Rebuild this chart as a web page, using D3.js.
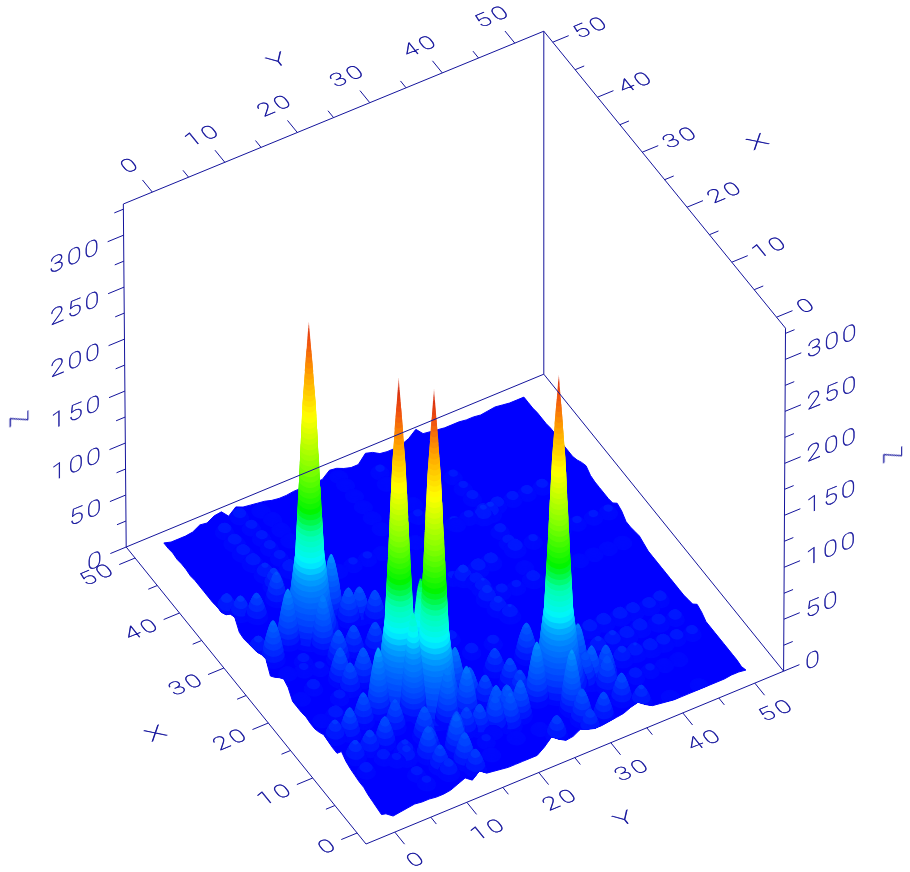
<!DOCTYPE html>
<html>
<head>
<meta charset="utf-8">
<script src="https://cdn.jsdelivr.net/npm/d3@7"></script>
<style>
  html, body { margin: 0; padding: 0; background: #fff; }
  text { font-family: Roboto, "Liberation Sans", sans-serif; font-weight: 100; fill: #14149c; stroke: #14149c; stroke-width: 0.45; text-rendering: geometricPrecision; }
</style>
</head>
<body>
<div id="chart"></div>
<script>
const width = 910;
const height = 872;

// axis ticks
const xTicks = [0, 10, 20, 30, 40, 50];
const yTicks = [0, 10, 20, 30, 40, 50];
const zTicks = [0, 50, 100, 150, 200, 250, 300];
const xMinor = [5, 15, 25, 35, 45];
const yMinor = [5, 15, 25, 35, 45];
const zMinor = [25, 75, 125, 175, 225, 275, 325];

// the four main peaks
const peakX = [30.2, 15.6, 12.4, 8.8];
const peakY = [8.1, 11.5, 14.4, 29.4];
const peakZ = [297, 310, 308, 298];

// peak radius against height
const profileZ = [0, 12, 30, 75, 125, 220, 285, 300];
const profileR = [3.6, 3.0, 2.45, 1.72, 1.38, 0.8, 0.17, 0.03];

// smaller spots, grouped roughly by area
const bumpX = [31.4, 29.8, 27.3, 28.3, 37.8, 36.3, 35.1, 36.3, 30.5, 29.5, 29.3, 28.4, 24.6, 25.1, 24.3, 21.8, 19.9, 20.5, 15.3, 13.3, 14.5, 14.8, 12.2, 13.8, 14.2, 10.6, 10.6, 9.3, 7.2, 7.2, 10.3, 4.2,
  13.3, 10.3, 11.8, 10.9, 14.4, 11.8, 9.9, 8, 14.4, 9.3, 4.7, 7.2, 7.2, 3.2, 1.7, 2.7, 6.9, 6.4, 5.7, 3.5, 10.2, 7.6, 5.9, 1.9, 1.9,
  48.3, 46.2, 44.3, 42.4, 40.2, 38.2, 49.5, 47.3, 45.3, 43.5, 41.6, 39.5, 49.2, 47.4, 45.5, 43.5,
  36.6, 36.6, 36.6, 36.6, 36.5, 36.5, 36.5, 36.5, 36.5, 36.5, 36.5,
  42.9, 40.8, 38.9, 35.8, 32.8, 30.8, 29.6, 29.5, 29.4, 29.6,
  24.5, 24.5, 24.5, 24.5, 24.5,
  14.5, 14.2, 14.4, 14.4, 14.5, 14.4, 14.4, 11.4, 11.1, 11.7, 11.4, 11.4, 11.4, 8.1, 8.3, 8.4, 8.4, 8.6, 8.6, 5.4, 5.4, 5.4, 5.4,
  7.7, 8.5, 4.4, 2.7, 21.3, 25.5, 26.2, 24.3, 17.2, 19.2, 28.5, 35.8, 21, 21, 21, 18, 18, 18, 25, 28,
  47.7, 45.8, 49.5, 48, 46, 44, 42, 40, 39.5, 41.5, 36.3,
  29.6, 29.6, 29, 29.2, 26.6, 24.4, 27.3, 26, 24.3, 24.5, 24.4, 22.4, 20.9, 36.2, 29.1,
  7.5, 6.7, 7.1, 7.8, 0.9, 7.1, 1.9, 2.9, 8.2, 7.5, 6.7, 7.5, 5.8, 5.9, 3.9, 3.7, 3,
  19, 19, 17, 17, 22, 22, 25, 5, 3, 0.8, 0.8];
const bumpY = [11.8, 4.8, 8.1, 1.8, 1.2, 2.2, 3.7, 7.2, 1.1, 13, 14.4, 16, 8.6, 11, 13.5, 7.1, 7.3, 9.5, 8.4, 12, 13.8, 6, 8.8, 3.5, 1.7, 6.4, 4.3, 11.1, 10.6, 7.3, 2.1, 10.1,
  17.8, 14.9, 18.9, 20.5, 24, 24.5, 24.7, 25.9, 28.4, 32.4, 28.7, 33, 35, 34.7, 36.5, 28.9, 21.2, 9.8, 13.3, 13.1, 17.5, 20, 20.9, 24.9, 31.4,
  7.4, 7.5, 7.5, 7.7, 8, 8, 10.2, 10.5, 10.7, 10.7, 10.9, 11, 13, 13.5, 13.5, 13.5,
  16, 18, 20, 22, 32, 34, 36, 38, 40.1, 42.1, 44.2,
  35.8, 35.9, 36, 36.6, 36.1, 36, 44.8, 47, 49, 42.7,
  40, 42, 44, 46, 48,
  47, 45.3, 43.2, 41.4, 39.2, 37.2, 35.2, 44.9, 47, 42.5, 40.5, 38.5, 36.5, 47.5, 45.5, 43.7, 41.9, 39.9, 38.1, 44, 42, 40, 38,
  2, 4.9, 7, 7.3, 1.4, 2.1, 4.7, 5.8, 1.7, 5.4, 28.3, 35.6, 18, 20, 22, 20, 23, 26, 18, 22,
  28.6, 28.3, 24, 24, 24, 24, 24, 24, 28.8, 29.4, 32.2,
  36.2, 38.7, 30.7, 32.6, 35.7, 35.5, 29.4, 29.5, 33.1, 31.2, 29.1, 29.4, 30.1, 26.4, 27.2,
  21.4, 19.3, 17.4, 16, 28.9, 14.2, 13.6, 10.5, 7.7, 6.1, 22.8, 32.3, 34.3, 18.6, 20.5, 23.7, 25.6,
  14, 16.5, 12, 3.5, 14, 3.5, 4, 17, 16.5, 40, 44];
const bumpZ = [57, 52, 50, 38, 15, 18, 23, 27, 13, 31, 29, 26, 29, 24, 24, 31, 26, 31, 62, 96, 118, 28, 27, 26, 17, 26, 19, 29, 22, 13, 17, 22,
  46, 51, 31, 24, 21, 24, 22, 56, 33, 48, 58, 36, 31, 26, 17, 30, 33, 29, 35, 29, 45, 33, 32, 20, 24,
  8, 9, 9, 10, 12, 18, 8, 7, 7, 7, 7, 10, 5, 5, 5, 5,
  5, 6, 6, 5, 6, 6, 7, 8, 7, 7, 7,
  6, 6, 7, 12, 7, 7, 6, 6, 6, 6,
  4, 4, 4, 4, 4,
  8, 9, 9, 10, 10, 10, 9, 9, 8, 10, 10, 12, 12, 7, 8, 9, 10, 11, 13, 5, 5, 6, 8,
  8, 8, 7, 6, 4, 5, 7, 6, 4, 7, 14, 12, 7, 7, 7, 8, 8, 7, 5, 5,
  6, 5, 3, 3, 3, 3, 3, 3, 6, 5, 4,
  10, 6, 10, 9, 5, 9, 9, 11, 6, 7, 14, 13, 11, 5, 6,
  30, 30, 25, 22, 20, 27, 20, 14, 12, 6, 35, 30, 30, 5, 5, 5, 5,
  14, 12, 10, 10, 16, 8, 6, 6, 5, 4, 3];

// height of the surface edge, one value per grid unit
const edgeY0 = [7, 1, 2, 3, 4, 6, 6, 7, 8, 10, 14, 7, 7, 8, 9, 6, 4, 4, 5, 4, 4, 4, 12, 15, 11, 6, 2, 13, 12, 9, 8, 7, 6, 7, 16, 14, 8, 5, 5, 4, 4, 4, 4, 4, 3, 4, 4, 3, 4, 3, 3];
const edgeX50 = [3, 1, 1, 1, 2, 6, 5, 9, 10, 3, 9, 6, 5, 4, 3, 1, 0, 0, 1, 1, 1, 1, 1, 7, 6, 3, 1, 1, 9, 7, 3, 2, 2, 3, 6, 12, 5, 4, 3, 2, 2, 2, 1, 1, 0, 1, 2, 1, 0, 0, 0];
const edgeY50 = [2, 0, 1, 1, 1, 1, 1, 1, 1, 1, 5, 7, 2, 1, 0, 0, 0, 0, 0, 0, 0, 0, 0, 2, 4, 3, 2, 2, 7, 9, 4, 3, 3, 3, 3, 4, 8, 6, 3, 1, 1, 1, 1, 2, 2, 1, 1, 1, 0, 0, 0];
const edgeX0 = [7, 2, 3, 4, 5, 4, 4, 3, 3, 4, 7, 10, 5, 11, 6, 5, 4, 3, 3, 3, 3, 3, 8, 15, 10, 6, 7, 11, 8, 6, 6, 7, 8, 9, 12, 14, 9, 5, 4, 3, 2, 2, 2, 2, 2, 2, 2, 2, 3, 3, 2];

// height colours
const colorZ = [0, 20, 50, 62, 75, 100, 122, 160, 210, 250, 280, 300];
const colorV = ['#0000ff', '#0040ff', '#0080ff', '#00a8ff', '#00f5ff', '#00ffb0', '#00f500', '#80ff00', '#ffff00', '#ffa000', '#f05010', '#d83010'];

const zColor = d3.scaleLinear().domain(colorZ).range(colorV).interpolate(d3.interpolateRgb).clamp(true);

// oblique projection of the box
const xPx = d3.scaleLinear([-2, 52], [0, -239.8]);
const xPy = d3.scaleLinear([-2, 52], [0, -297]);
const yPx = d3.scaleLinear([-4, 54], [0, 417.6]);
const yPy = d3.scaleLinear([-4, 54], [0, -172.8]);
const zPy = d3.scaleLinear([0, 330], [0, -343]);

const project = (x, y, z) => {
  const tilt = z * (0.00015 * (y - 54) + 0.000107 * (52 - x));
  return [366 + xPx(x) + yPx(y) + tilt, 844 + xPy(x) + yPy(y) + zPy(z)];
};

const svg = d3.select('#chart')
  .append('svg')
  .attr('width', width)
  .attr('height', height)
  .style('display', 'block');

// one unit along x and y on screen
const ex = [xPx(1) - xPx(0), xPy(1) - xPy(0)];
const ey = [yPx(1) - yPx(0), yPy(1) - yPy(0)];

const ringLayer = svg.append('g');

// the floor outline
const frontLeft = edgeY0.map((z, i) => project(i, 0, z));
const frontRight = edgeX0.map((z, i) => project(0, i, z));
const outline = [];
frontLeft.forEach((p) => outline.push(p));
edgeX50.forEach((z, i) => outline.push(project(50, i, z)));
edgeY50.slice().reverse().forEach((z, i) => outline.push(project(50 - i, 50, z)));
frontRight.slice().reverse().forEach((p) => outline.push(p));

ringLayer.append('path')
  .attr('d', d3.line()(outline) + 'Z')
  .attr('fill', '#0000ff')
  .attr('stroke', '#0000ff')
  .attr('stroke-width', 1);

// spots near the front must not hang over the surface edge
const clipPts = frontLeft.slice();
clipPts.push([frontLeft[frontLeft.length - 1][0], 0]);
clipPts.push([frontRight[frontRight.length - 1][0], 0]);
frontRight.slice().reverse().forEach((p) => clipPts.push(p));

svg.append('clipPath')
  .attr('id', 'front-clip')
  .append('path')
  .attr('d', d3.line()(clipPts) + 'Z');

// collect all spots and peaks, far ones first
const spots = [];
bumpX.forEach((x, i) => spots.push({ x: x, y: bumpY[i], z: bumpZ[i], peak: false }));
peakX.forEach((x, i) => spots.push({ x: x, y: peakY[i], z: peakZ[i], peak: true }));
spots.sort((a, b) => project(a.x, a.y, 0)[1] - project(b.x, b.y, 0)[1]);

const peakRadius = d3.scaleLinear().domain(profileZ).range(profileR).clamp(true);

const rings = [];
spots.forEach((s) => {
  if (s.peak) {
    // rescale so every peak narrows to a point at its own top
    for (let z = 1; z <= s.z; z += 1) {
      rings.push({ x: s.x, y: s.y, z: z, r: peakRadius(z * 300 / s.z) });
    }
  } else {
    const big = s.z > 70 ? 1.6 : (s.z > 28 ? 1.45 : (s.z > 8 ? 1.35 : 1.15));
    const power = s.z > 8 ? 0.62 : 0.4;
    const step = Math.max(0.6, s.z / 60);
    for (let z = 0.3; z <= s.z; z += step) {
      rings.push({ x: s.x, y: s.y, z: z, r: big * Math.pow(1 - z / s.z, power) + 0.02 });
    }
  }
});

// banded colour, the picture steps through a short palette
const band = (z) => Math.floor(z / 5) * 5;

ringLayer.append('g')
  .attr('clip-path', 'url(#front-clip)')
  .selectAll('circle')
  .data(rings)
  .enter()
  .append('circle')
  .attr('r', 1)
  .attr('transform', (d) => {
    const p = project(d.x, d.y, d.z);
    return 'matrix(' + (ex[0] * d.r) + ',' + (ex[1] * d.r) + ',' + (ey[0] * d.r) + ',' + (ey[1] * d.r) + ',' + p[0] + ',' + p[1] + ')';
  })
  .attr('fill', (d) => zColor(band(d.z) + 2.5));

// box and axes
const axisColor = '#14149c';
const axes = svg.append('g').attr('stroke', axisColor).attr('fill', 'none');

const seg = (a, b, w) => {
  axes.append('line')
    .attr('x1', a[0]).attr('y1', a[1])
    .attr('x2', b[0]).attr('y2', b[1])
    .attr('stroke-width', w);
};

seg(project(52, -4, 0), project(-2, -4, 0), 1);
seg(project(-2, -4, 0), project(-2, 54, 0), 1);
seg(project(52, -4, 0), project(52, 54, 0), 1);
seg(project(52, 54, 0), project(-2, 54, 0), 1);
seg(project(52, -4, 0), project(52, -4, 330), 1);
seg(project(52, 54, 0), project(52, 54, 330), 1);
seg(project(-2, 54, 0), project(-2, 54, 330), 1);
seg(project(52, -4, 330), project(52, 54, 330), 1);
seg(project(52, 54, 330), project(-2, 54, 330), 1);

const majorLen = 2.2;
const minorLen = 1.25;

xTicks.forEach((t) => {
  seg(project(t, -4, 0), project(t, -4 - majorLen, 0), 1);
  seg(project(t, 54, 330), project(t, 54 + majorLen, 330), 1);
});
xMinor.forEach((t) => {
  seg(project(t, -4, 0), project(t, -4 - minorLen, 0), 1);
  seg(project(t, 54, 330), project(t, 54 + minorLen, 330), 1);
});
yTicks.forEach((t) => {
  seg(project(-2, t, 0), project(-2 - majorLen, t, 0), 1);
  seg(project(52, t, 330), project(52 + majorLen, t, 330), 1);
});
yMinor.forEach((t) => {
  seg(project(-2, t, 0), project(-2 - minorLen, t, 0), 1);
  seg(project(52, t, 330), project(52 + minorLen, t, 330), 1);
});
zTicks.forEach((t) => {
  seg(project(52, -4, t), project(52, -4 - majorLen, t), 1);
  seg(project(-2, 54, t), project(-2, 54 + majorLen, t), 1);
});
zMinor.forEach((t) => {
  seg(project(52, -4, t), project(52, -4 - minorLen, t), 1);
  seg(project(-2, 54, t), project(-2, 54 + minorLen, t), 1);
});

// labels are painted onto the box planes, so each gets its own matrix
const unit = (v) => {
  const n = Math.hypot(v[0], v[1]);
  return [v[0] / n, v[1] / n];
};
const alongY = unit(ey);
const alongX = unit(ex);
const upright = [0, -1];

const labels = svg.append('g').attr('opacity', 0.99);

const label = (txt, p, u, up, opts) => {
  const su = opts.su;
  const sv = opts.sv;
  labels.append('text')
    .text(txt)
    .attr('transform', 'matrix(' + (u[0] * su) + ',' + (u[1] * su) + ',' + (-up[0] * sv) + ',' + (-up[1] * sv) + ',' + p[0] + ',' + p[1] + ')')
    .attr('text-anchor', opts.anchor)
    .attr('dy', '0.36em')
    .style('font-size', opts.size + 'px')
    .style('letter-spacing', opts.spacing + 'px');
};

const flat = { su: 1.3, sv: 1, size: 20, spacing: 2.5 };
const wall = { su: 1.3, sv: 1, size: 22, spacing: 2.5 };

xTicks.forEach((t) => {
  label(String(t), project(t, -7.0, 0), alongY, alongX, Object.assign({}, flat, { anchor: 'end' }));
  label(String(t), project(t, 57.0, 330), alongY, alongX, Object.assign({}, flat, { anchor: 'start' }));
});
yTicks.forEach((t) => {
  label(String(t), project(-6.8, t, 0), alongY, alongX, Object.assign({}, flat, { anchor: 'middle' }));
  label(String(t), project(57, t, 330), alongY, alongX, Object.assign({}, flat, { anchor: 'middle' }));
});
zTicks.forEach((t) => {
  label(String(t), project(52, -7.0, t), alongY, upright, Object.assign({}, wall, { anchor: 'end' }));
  label(String(t), project(-2, 57.0, t), alongY, upright, Object.assign({}, wall, { anchor: 'start' }));
});

const titleOpts = { su: 1.6, sv: 1, size: 19, spacing: 0, anchor: 'middle' };
label('X', project(25, -16.6, 0), alongY, alongX, titleOpts);
label('X', project(25, 66.8, 330), alongY, alongX, titleOpts);
label('Y', project(-13, 25, 0), alongY, alongX, titleOpts);
label('Y', project(63, 24, 330), alongY, alongX, titleOpts);

const zOpts = { su: 1, sv: 1.56, size: 18, spacing: 0, anchor: 'middle' };
const zUp = [-0.92, 0.38];
label('Z', project(52, -18.7, 165), upright, zUp, zOpts);
label('Z', project(-2, 68.9, 165), upright, zUp, zOpts);
</script>
</body>
</html>
